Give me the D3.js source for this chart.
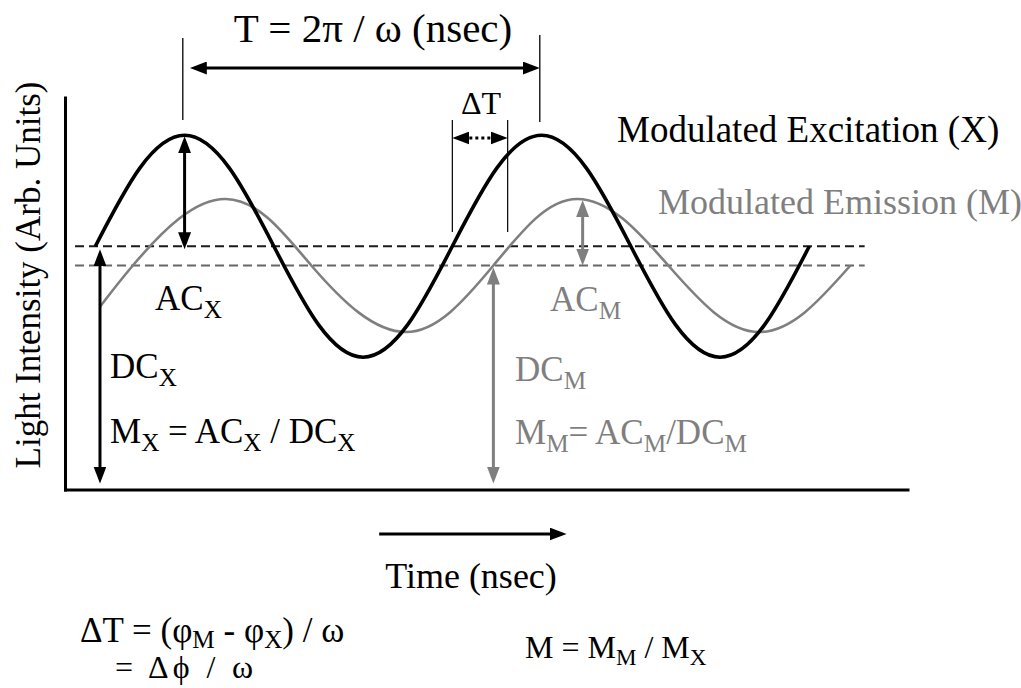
<!DOCTYPE html>
<html>
<head>
<meta charset="utf-8">
<script src="https://cdn.jsdelivr.net/npm/d3@7"></script>
<style>
  html, body { margin: 0; padding: 0; background: #fff; overflow: hidden; }
  svg text, svg tspan { font-family: "Liberation Serif", "Times New Roman", Times, serif; }
</style>
</head>
<body>
<svg id="chart" width="1021" height="688" font-family="Liberation Serif"></svg>
<script>
// Time axis in arbitrary units (one modulation period = 10), intensity in arbitrary units.
const excitationTime      = [0.85, 2.1, 3.35, 4.6, 5.85, 7.1, 8.35, 9.6, 10.85, 12.1, 13.35, 14.6, 15.85, 17.1, 18.35, 19.6, 20.85];
const excitationIntensity = [6.95, 9.19, 10.12, 9.19, 6.95, 4.71, 3.78, 4.71, 6.95, 9.19, 10.12, 9.19, 6.95, 4.71, 3.78, 4.71, 6.95];

const emissionTime      = [0.98, 1.9, 3.2, 4.5, 5.7, 6.9, 8.22, 9.55, 10.78, 12.0, 13.18, 14.35, 15.62, 16.9, 18.18, 19.45, 20.72, 22.0];
const emissionIntensity = [5.22, 6.4, 7.74, 8.3, 7.74, 6.4, 5.06, 4.5, 5.06, 6.4, 7.74, 8.3, 7.74, 6.4, 5.06, 4.5, 5.06, 6.4];

// DC (mean) and AC (peak) levels of each signal
const dcLevels   = [6.95, 6.4];     // [excitation, emission]
const peakLevels = [10.12, 8.3];    // [excitation, emission]
const dcSpan     = [0.28, 22.4];    // extent of the dashed DC lines

// annotation times
const periodMarks = [3.3, 13.3];    // two successive excitation maxima
const phaseMarks  = [10.85, 12.4];  // excitation vs emission rising edge
const acTimes     = [3.35, 14.5];   // where AC arrows are drawn
const dcTimes     = [0.98, 12.0];   // where DC arrows are drawn
const timeArrow   = [8.8, 14.05];

const BLACK = "#000";
const GREY  = "#7f7f7f";

const svg = d3.select("#chart");
const x = d3.scaleLinear().domain([0, 23.6]).range([65, 907.5]);
const y = d3.scaleLinear().domain([0, 11.2]).range([489.5, 97.5]);

// arrow heads
const defs = svg.append("defs");
[["black", BLACK], ["grey", GREY]].forEach(([id, c]) => {
  defs.append("marker")
    .attr("id", "head-" + id)
    .attr("markerUnits", "userSpaceOnUse")
    .attr("markerWidth", 17).attr("markerHeight", 13)
    .attr("viewBox", "0 0 17 13")
    .attr("refX", 12).attr("refY", 6.5)
    .attr("orient", "auto-start-reverse")
    .append("path").attr("d", "M0,0 L17,6.5 L0,13 Z").attr("fill", c);
});

// draws a line whose end(s) carry arrow heads with tips at the given points
function arrow(x1, y1, x2, y2, { color = BLACK, width = 3, both = true, dash = null } = {}) {
  const len = Math.hypot(x2 - x1, y2 - y1);
  const ux = (x2 - x1) / len, uy = (y2 - y1) / len;
  const inset = 5;
  const sx = both ? x1 + ux * inset : x1, sy = both ? y1 + uy * inset : y1;
  const ex = x2 - ux * inset, ey = y2 - uy * inset;
  const id = color === BLACK ? "black" : "grey";
  const l = svg.append("line")
    .attr("x1", sx).attr("y1", sy).attr("x2", ex).attr("y2", ey)
    .attr("stroke", color).attr("stroke-width", width)
    .attr("marker-end", `url(#head-${id})`);
  if (both) l.attr("marker-start", `url(#head-${id})`);
  if (dash) l.attr("stroke-dasharray", dash);
  return l;
}

// text with optional subscripts: parts = [[string, isSub], ...]
function label(parts, { x: tx, y: ty, size = 36, color = BLACK, anchor = "start", rotate = 0, shiftRatio = 0.22, spread = null }) {
  const t = svg.append("text")
    .attr("font-family", "Liberation Serif")
    .attr("font-size", size)
    .attr("text-anchor", anchor)
    .attr("fill", color);
  if (rotate) t.attr("transform", `translate(${tx},${ty}) rotate(${rotate})`);
  else t.attr("x", tx).attr("y", ty);
  if (spread) t.attr("textLength", spread).attr("lengthAdjust", "spacing");
  if (parts.length === 1 && !parts[0][1]) { t.text(parts[0][0]); return t; }
  const shift = Math.round(size * shiftRatio);
  let down = false;
  parts.forEach(([s, sub]) => {
    const ts = t.append("tspan").text(s);
    if (sub && !down) { ts.attr("dy", shift).attr("font-size", size * 0.72); down = true; }
    else if (sub) { ts.attr("font-size", size * 0.72); }
    else if (!sub && down) { ts.attr("dy", -shift); down = false; }
  });
  return t;
}

// axes (plain lines, no ticks)
svg.append("g").attr("transform", `translate(0,${y(0)})`)
  .call(d3.axisBottom(x).tickValues([]).tickSizeOuter(0))
  .call(g => g.select(".domain").attr("stroke", BLACK).attr("stroke-width", 3).attr("stroke-linecap", "square"));
svg.append("g").attr("transform", `translate(${x(0)},0)`)
  .call(d3.axisLeft(y).tickValues([]).tickSizeOuter(0))
  .call(g => g.select(".domain").attr("stroke", BLACK).attr("stroke-width", 3).attr("stroke-linecap", "square"));

// dashed DC levels
svg.append("line")
  .attr("x1", x(dcSpan[0])).attr("x2", x(dcSpan[1]))
  .attr("y1", y(dcLevels[0])).attr("y2", y(dcLevels[0]))
  .attr("stroke", "#1a1a1a").attr("stroke-width", 2).attr("stroke-dasharray", "9,5");
svg.append("line")
  .attr("x1", x(dcSpan[0])).attr("x2", x(dcSpan[1]))
  .attr("y1", y(dcLevels[1])).attr("y2", y(dcLevels[1]))
  .attr("stroke", "#666").attr("stroke-width", 2).attr("stroke-dasharray", "9,5");

// waveforms
const line = d3.line().curve(d3.curveNatural).x(d => x(d[0])).y(d => y(d[1]));
svg.append("path")
  .datum(emissionTime.map((t, i) => [t, emissionIntensity[i]]))
  .attr("d", line).attr("fill", "none").attr("stroke", GREY).attr("stroke-width", 2.6);
svg.append("path")
  .datum(excitationTime.map((t, i) => [t, excitationIntensity[i]]))
  .attr("d", line).attr("fill", "none").attr("stroke", BLACK).attr("stroke-width", 3.6);

// period guides and arrow
svg.append("line").attr("x1", x(periodMarks[0])).attr("x2", x(periodMarks[0]))
  .attr("y1", 38).attr("y2", 120).attr("stroke", BLACK).attr("stroke-width", 1.3);
svg.append("line").attr("x1", x(periodMarks[1])).attr("x2", x(periodMarks[1]))
  .attr("y1", 35).attr("y2", 122).attr("stroke", BLACK).attr("stroke-width", 1.3);
arrow(x(periodMarks[0]) + 7, 68, x(periodMarks[1]), 68, { width: 3 });

// phase delay guides and dotted arrow
phaseMarks.forEach(t => {
  svg.append("line").attr("x1", x(t)).attr("x2", x(t))
    .attr("y1", 120).attr("y2", 232).attr("stroke", BLACK).attr("stroke-width", 1.2);
});
arrow(x(phaseMarks[0]), 138, x(phaseMarks[1]), 138, { width: 3, dash: "3,3" });

// AC / DC arrows
arrow(x(acTimes[0]), y(peakLevels[0]) + 1, x(acTimes[0]), y(dcLevels[0]) + 3);
arrow(x(dcTimes[0]), y(dcLevels[0]) + 3, x(dcTimes[0]), y(0) - 6);
arrow(x(acTimes[1]), y(peakLevels[1]) + 1, x(acTimes[1]), y(dcLevels[1]), { color: GREY });
arrow(x(dcTimes[1]), y(dcLevels[1]) + 2, x(dcTimes[1]), y(0) - 6, { color: GREY });

// time direction arrow
arrow(x(timeArrow[0]), 534, x(timeArrow[1]), 534, { both: false, width: 3 });

// texts
label([["T = 2\u03C0 / \u03C9 (nsec)"]], { x: 373, y: 42, size: 41, anchor: "middle" });
label([["\u0394T"]], { x: 481, y: 114, size: 32, anchor: "middle" });
label([["Modulated Excitation (X)"]], { x: 617, y: 142, size: 37 });
label([["Modulated Emission (M)"]], { x: 658, y: 214, size: 36, color: GREY });

label([["AC"], ["X", true]], { x: 155, y: 310, size: 35 });
label([["DC"], ["X", true]], { x: 110, y: 378, size: 35 });
label([["M"], ["X", true], [" = AC"], ["X", true], [" / DC"], ["X", true]], { x: 110, y: 443, size: 35 });

label([["AC"], ["M", true]], { x: 550, y: 311, size: 35, color: GREY });
label([["DC"], ["M", true]], { x: 515, y: 381, size: 35, color: GREY });
label([["M"], ["M", true], ["= AC"], ["M", true], ["/DC"], ["M", true]], { x: 515, y: 444, size: 35, color: GREY });

label([["Light Intensity (Arb. Units)"]], { x: 40, y: 275, size: 35, anchor: "middle", rotate: -90 });
label([["Time (nsec)"]], { x: 471, y: 588, size: 36, anchor: "middle" });

label([["\u0394T = (\u03C6"], ["M", true], [" - \u03C6"], ["X", true], [") / \u03C9"]], { x: 80, y: 642, size: 35, shiftRatio: 0.16 });
label([["= \u0394\u03D5 / \u03C9"]], { x: 115, y: 678, size: 32, spread: 138 });
label([["M = M"], ["M", true], [" / M"], ["X", true]], { x: 525, y: 658, size: 32 });
</script>
</body>
</html>
